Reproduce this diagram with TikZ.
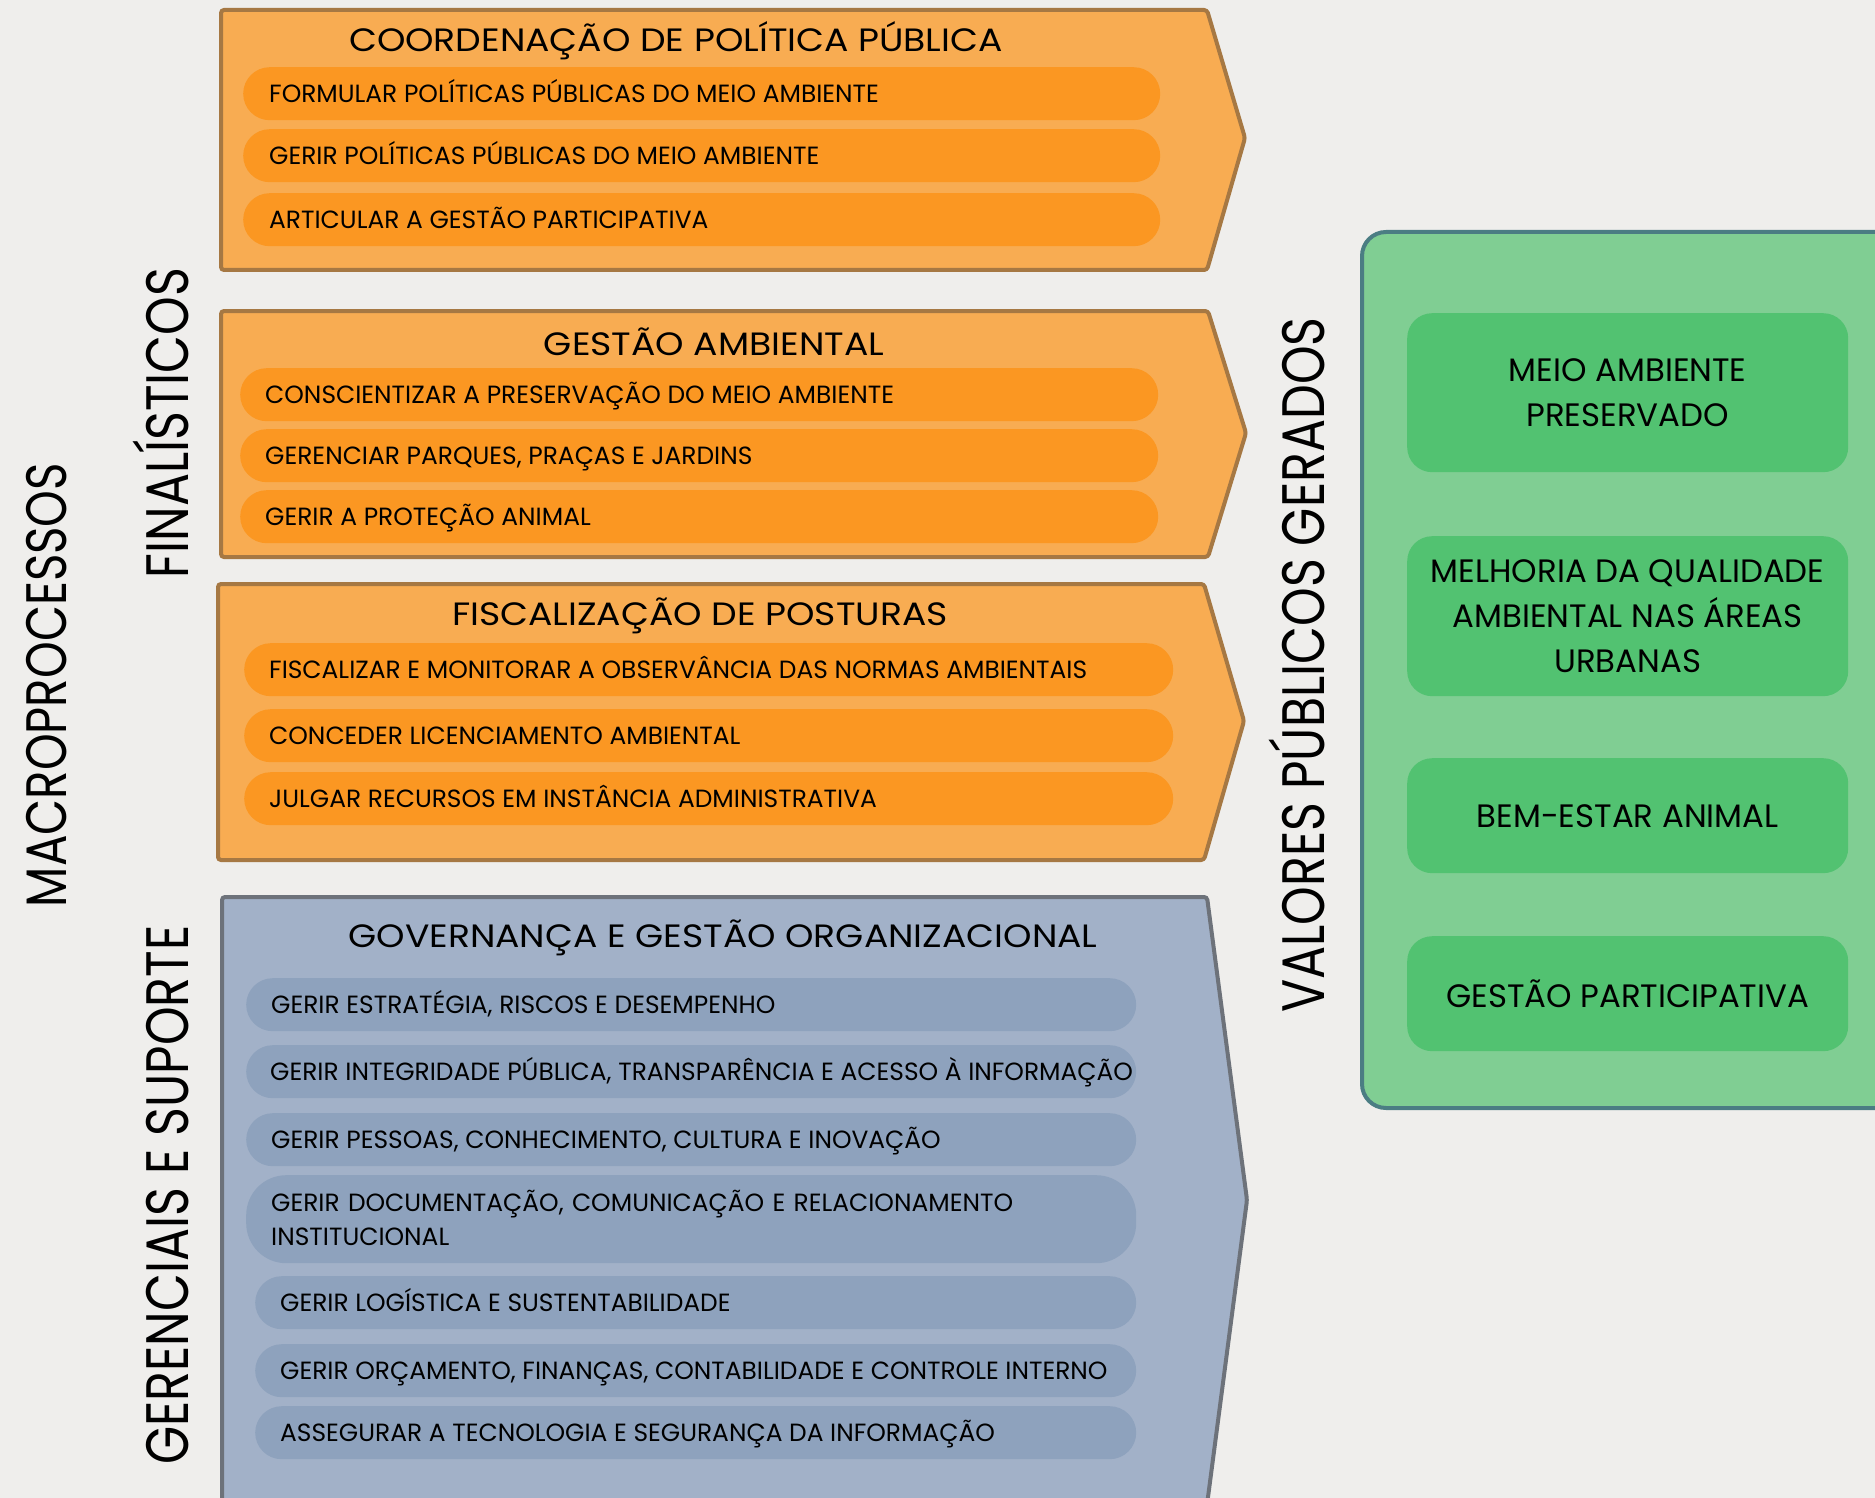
\documentclass[tikz,border=0pt]{standalone}
\usepackage{fontspec}
\setmainfont{Poppins}
\newfontfamily\condfont{Poppins}[FakeStretch=0.82]
\newfontfamily\widefont{Poppins}[FakeStretch=1.12]
\definecolor{bgc}{HTML}{EFEEEC}
\definecolor{orfill}{HTML}{F8AC52}
\definecolor{orbord}{HTML}{A67843}
\definecolor{orpill}{HTML}{FB9722}
\definecolor{blfill}{HTML}{A2B1C8}
\definecolor{blbord}{HTML}{6D727A}
\definecolor{blpill}{HTML}{8EA2BD}
\definecolor{grfill}{HTML}{80CE93}
\definecolor{grbord}{HTML}{4B7D83}
\definecolor{grinner}{HTML}{52C271}
\begin{document}
\begin{tikzpicture}[x=1pt,y=-1pt,
  outerO/.style={fill=orfill, draw=orbord, line width=4pt, rounded corners=3pt},
  outerB/.style={fill=blfill, draw=blbord, line width=4pt, rounded corners=3pt},
  pillbase/.style={rounded corners=26.5pt, minimum height=53pt, inner sep=0pt, anchor=north west},
  pillO/.style={pillbase, fill=orpill},
  pillB/.style={pillbase, fill=blpill},
  itemtxt/.style={font=\fontsize{24.9}{34}\selectfont, text height=17pt, text depth=0pt, inner sep=0pt, anchor=west},
  titletxt/.style={font=\widefont\fontsize{32.3}{36}\selectfont, text height=22pt, text depth=0pt, inner sep=0pt},
  vtxt/.style={font=\condfont\fontsize{59.9}{62}\selectfont, rotate=90, text height=41pt, text depth=0pt, inner sep=0pt},
  gbox/.style={fill=grinner, rounded corners=25pt, minimum width=441pt, inner sep=0pt, anchor=north west, align=center, font=\fontsize{32.4}{45}\selectfont}
]
\useasboundingbox (0,0) rectangle (1875,1498);
\clip (0,0) rectangle (1875,1498);
\fill[bgc] (0,0) rectangle (1875,1498);

% ---------- vertical labels
\node[vtxt, font=\condfont\fontsize{57}{60}\selectfont, text height=40pt] (macro) at (46,685) {MACROPROCESSOS};
\node[vtxt] (final) at (168,423) {FINALÍSTICOS};
\node[vtxt] (geren) at (168,1195) {GERENCIAIS E SUPORTE};
\node[vtxt] (valores) at (1304,665) {VALORES PÚBLICOS GERADOS};

% ---------- box 1
\draw[outerO] (221,10) -- (1207,10) -- (1245,138) -- (1207,270) -- (221,270) -- cycle;
\node[titletxt] (t1) at (676,41) {COORDENAÇÃO DE POLÍTICA PÚBLICA};
\node[pillO, minimum width=917pt] (a1) at (243,67) {};
\node[pillO, minimum width=917pt] (a2) at (243,129) {};
\node[pillO, minimum width=917pt] (a3) at (243,193) {};
\node[itemtxt] (a1t) at ([xshift=26pt]a1.west) {FORMULAR POLÍTICAS PÚBLICAS DO MEIO AMBIENTE};
\node[itemtxt] (a2t) at ([xshift=26pt]a2.west) {GERIR POLÍTICAS PÚBLICAS DO MEIO AMBIENTE};
\node[itemtxt] (a3t) at ([xshift=26pt]a3.west) {ARTICULAR A GESTÃO PARTICIPATIVA};

% ---------- box 2
\draw[outerO] (221,311) -- (1208,311) -- (1246,433) -- (1208,557) -- (221,557) -- cycle;
\node[titletxt] (t2) at (714,344) {GESTÃO AMBIENTAL};
\node[pillO, minimum width=918pt] (b1) at (240,368) {};
\node[pillO, minimum width=918pt] (b2) at (240,429) {};
\node[pillO, minimum width=918pt] (b3) at (240,490) {};
\node[itemtxt] (b1t) at ([xshift=25pt]b1.west) {CONSCIENTIZAR A PRESERVAÇÃO DO MEIO AMBIENTE};
\node[itemtxt] (b2t) at ([xshift=25pt]b2.west) {GERENCIAR PARQUES, PRAÇAS E JARDINS};
\node[itemtxt] (b3t) at ([xshift=25pt]b3.west) {GERIR A PROTEÇÃO ANIMAL};

% ---------- box 3
\draw[outerO] (218,584) -- (1204,584) -- (1244,721) -- (1204,860) -- (218,860) -- cycle;
\node[titletxt] (t3) at (700,614) {FISCALIZAÇÃO DE POSTURAS};
\node[pillO, minimum width=929pt] (c1) at (244,643) {};
\node[pillO, minimum width=929pt] (c2) at (244,709) {};
\node[pillO, minimum width=929pt] (c3) at (244,772) {};
\node[itemtxt] (c1t) at ([xshift=25pt]c1.west) {FISCALIZAR E MONITORAR A OBSERVÂNCIA DAS NORMAS AMBIENTAIS};
\node[itemtxt] (c2t) at ([xshift=25pt]c2.west) {CONCEDER LICENCIAMENTO AMBIENTAL};
\node[itemtxt] (c3t) at ([xshift=25pt]c3.west) {JULGAR RECURSOS EM INSTÂNCIA ADMINISTRATIVA};

% ---------- box 4
\draw[outerB] (222,897) -- (1207,897) -- (1247,1200) -- (1205,1520) -- (222,1520) -- cycle;
\node[titletxt] (t4) at (723,936) {GOVERNANÇA E GESTÃO ORGANIZACIONAL};
\node[pillB, minimum width=890pt] (d1) at (246,978) {};
\node[pillB, minimum width=890pt] (d2) at (246,1045) {};
\node[pillB, minimum width=890pt] (d3) at (246,1113) {};
\node[pillB, minimum width=890pt, minimum height=88pt, rounded corners=40pt] (d4) at (246,1175) {};
\node[pillB, minimum width=881pt] (d5) at (255,1276) {};
\node[pillB, minimum width=881pt] (d6) at (255,1344) {};
\node[pillB, minimum width=881pt] (d7) at (255,1406) {};
\node[itemtxt] (d1t) at ([xshift=25pt]d1.west) {GERIR ESTRATÉGIA, RISCOS E DESEMPENHO};
\node[itemtxt] (d2t) at ([xshift=24pt]d2.west) {GERIR INTEGRIDADE PÚBLICA, TRANSPARÊNCIA E ACESSO À INFORMAÇÃO};
\node[itemtxt] (d3t) at ([xshift=25pt]d3.west) {GERIR PESSOAS, CONHECIMENTO, CULTURA E INOVAÇÃO};
\node[itemtxt, text height=, text depth=, text width=800pt, align=left, anchor=base west] (d4t) at (271,1211) {GERIR DOCUMENTAÇÃO, COMUNICAÇÃO E RELACIONAMENTO\\INSTITUCIONAL};
\node[itemtxt] (d5t) at ([xshift=25pt]d5.west) {GERIR LOGÍSTICA E SUSTENTABILIDADE};
\node[itemtxt] (d6t) at ([xshift=25pt]d6.west) {GERIR ORÇAMENTO, FINANÇAS, CONTABILIDADE E CONTROLE INTERNO};
\node[itemtxt] (d7t) at ([xshift=25pt]d7.west) {ASSEGURAR A TECNOLOGIA E SEGURANÇA DA INFORMAÇÃO};

% ---------- green panel
\draw[fill=grfill, draw=grbord, line width=4pt, rounded corners=24pt] (1362,232) rectangle (1930,1108);
\node[gbox, minimum height=159pt] (g1) at (1407,313) {MEIO AMBIENTE\\PRESERVADO};
\node[gbox, minimum height=160pt] (g2) at (1407,536) {MELHORIA DA QUALIDADE\\AMBIENTAL NAS ÁREAS\\URBANAS};
\node[gbox, minimum height=115pt] (g3) at (1407,758) {BEM-ESTAR ANIMAL};
\node[gbox, minimum height=115pt] (g4) at (1407,936) {GESTÃO PARTICIPATIVA};
\end{tikzpicture}
\end{document}
